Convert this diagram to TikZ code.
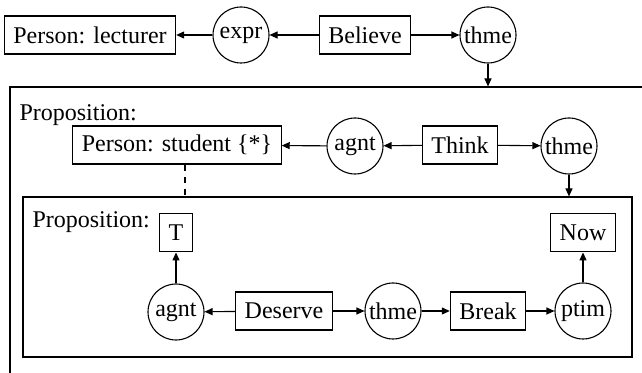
\documentclass[tikz,border=0pt]{standalone}
\usepackage{fontspec}
\setmainfont{Liberation Serif}
\usetikzlibrary{positioning,fit,arrows.meta}

\begin{document}
\begin{tikzpicture}[x=0.5pt, y=-0.5pt, line width=0.55pt,
        concept/.style={rectangle, draw=black, fill=white, font=\fontsize{12}{14}\selectfont, inner xsep=4.5pt, inner ysep=0pt, minimum height=19pt},
        relation/.style={circle, draw=black, fill=white, font=\fontsize{12}{14}\selectfont, inner sep=0pt, minimum size=28pt},
        frame/.style={rectangle, draw=black, inner sep=0pt},
        caption/.style={font=\fontsize{12}{14}\selectfont, inner sep=0pt, anchor=base west},
        link/.style={-{Triangle[length=4pt,width=3.5pt]}},
    ]
    \useasboundingbox (0,0) rectangle (642,373);
    \clip (0,0) rectangle (642,373);

    % nested contexts
    \node[frame, fit={(10,87) (680,420)}] (prop1) {};
    \node[frame, fill=white, fit={(23,197) (632,357)}] (prop2) {};
    \node[caption] (cap1) at (19,121) {Proposition:};
    \node[caption] (cap2) at (32,228) {Proposition:};

    % outer graph
    \node[concept] (lecturer) at (90,35) {Person: lecturer};
    \node[relation] (expr) at (241,35) {expr};
    \node[concept] (believe) at (365,35) {Believe};
    \node[relation] (thme1) at (488,35) {thme};

    % first proposition
    \node[concept] (student) at (177,145) {Person: student \{*\}};
    \node[relation] (agnt1) at (355,146) {agnt};
    \node[concept] (think) at (460,145) {Think};
    \node[relation] (thme2) at (569,146) {thme};

    % second proposition
    \node[relation] (agnt2) at (176,312) {agnt};
    \node[concept] (tee) [above=15.5pt of agnt2] {T};
    \node[concept] (deserve) at (284,311) {Deserve};
    \node[relation] (thme3) at (393,311) {thme};
    \node[concept] (brk) at (488,311) {Break};
    \node[relation] (ptim) at (583,311) {ptim};
    \node[concept] (now) [above=15pt of ptim] {Now};

    \path[link] (believe) edge (expr);
    \path[link] (expr) edge (lecturer);
    \path[link] (believe) edge (thme1);
    \path[link] (thme1) edge (thme1 |- prop1.north);

    \path[link] (think) edge (agnt1);
    \path[link] (agnt1) edge (student);
    \path[link] (think) edge (thme2);
    \path[link] (thme2) edge (thme2 |- prop2.north);

    \path[link] (deserve) edge (agnt2);
    \path[link] (agnt2) edge (tee);
    \path[link] (deserve) edge (thme3);
    \path[link] (thme3) edge (brk);
    \path[link] (brk) edge (ptim);
    \path[link] (ptim) edge (now);

    % coreference link
    \draw[dashed, line width=0.8pt] ([xshift=4pt]student.south) -- ([xshift=4pt]student.south |- prop2.north);
\end{tikzpicture}
\end{document}
